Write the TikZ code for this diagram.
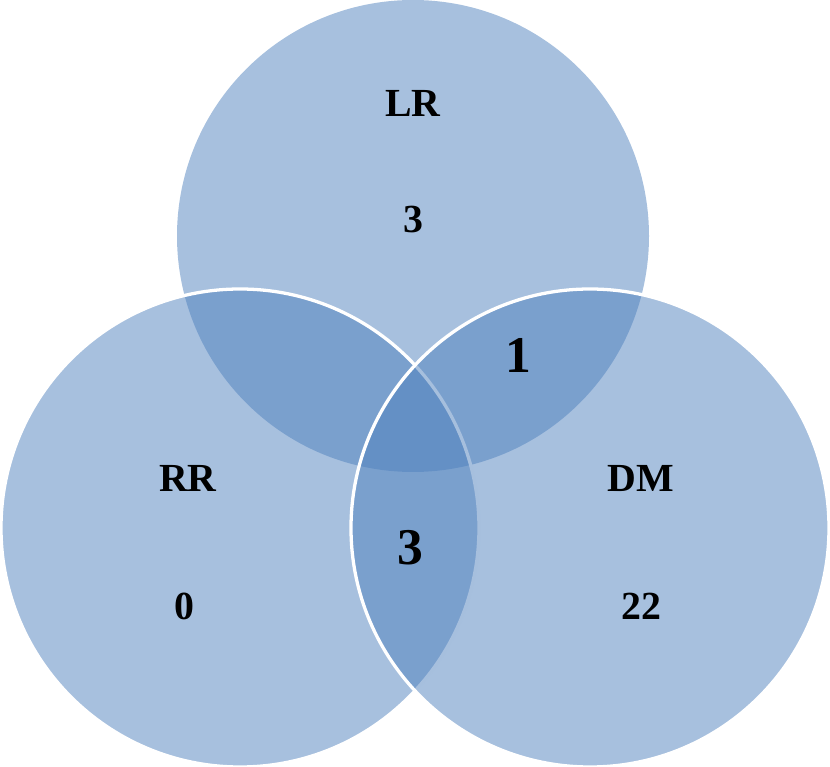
\documentclass[tikz,border=0pt]{standalone}
\usepackage{fontspec}
\setmainfont{Liberation Serif}
\definecolor{vb}{HTML}{4F81BD}
\begin{document}
\begin{tikzpicture}[x=0.03cm,y=-0.03cm,
  circ/.style={fill=vb,fill opacity=0.5},
  ring/.style={draw=white,line width=2.8pt},
  lab/.style={font=\bfseries\fontsize{34}{38}\selectfont,text=black},
  big/.style={font=\bfseries\fontsize{44}{48}\selectfont,text=black}]
\useasboundingbox (0,0) rectangle (830,767);
\fill[circ] (413,236) circle (236);
\fill[circ] (240,528) circle (239);
\draw[ring] (240,528) circle (239);
\fill[circ] (590,528) circle (239);
\draw[ring] (590,528) circle (239);
\node[lab] (lr) at (413,103) {LR};
\node[lab] (lrn) at (413,220) {3};
\node[big] (ld) at (518,355) {1};
\node[lab] (rr) at (188,478) {RR};
\node[lab] (rrn) at (184,606) {0};
\node[big] (rd) at (410,548) {3};
\node[lab] (dm) at (641,478) {DM};
\node[lab] (dmn) at (641,606) {22};
\end{tikzpicture}
\end{document}
